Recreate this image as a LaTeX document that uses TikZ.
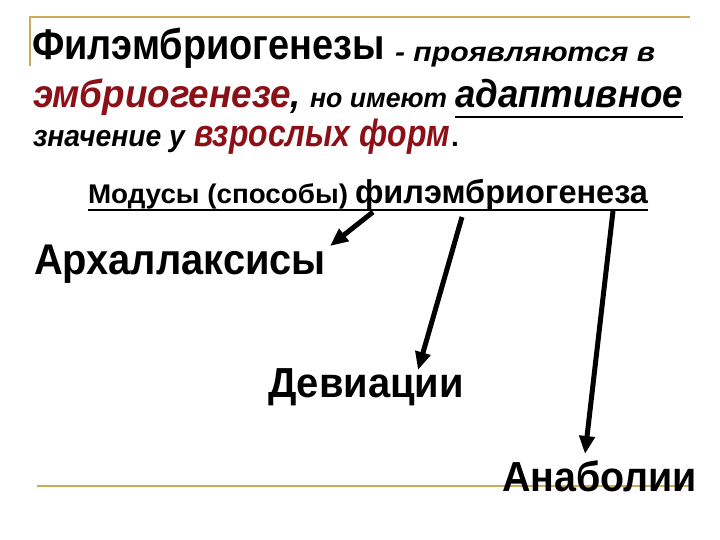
\documentclass[tikz,border=0pt]{standalone}
\usepackage{fontspec}
\setmainfont{Liberation Sans}
\usetikzlibrary{arrows.meta}
\definecolor{darkred}{RGB}{140,16,24}
\definecolor{gold}{RGB}{204,172,90}
\newcommand{\hw}[2]{\resizebox{#1}{\height}{#2}}
\newcommand{\fs}[1]{\fontsize{#1}{#1}\selectfont}
\tikzset{
  txt/.style={anchor=base west, inner sep=0pt, outer sep=0pt},
  goldline/.style={draw=gold, line width=2pt},
  uline/.style={line width=2.6pt},
  arr/.style={line width=5pt, -{Triangle[length=18pt,width=15pt]}},
}
\begin{document}
\begin{tikzpicture}[x=1pt,y=-1pt]
\useasboundingbox (0,0) rectangle (720,540);
\fill[white] (0,0) rectangle (720,540);
% frame lines
\draw[goldline] (30,66) -- (30,17) -- (690,17);
\draw[goldline] (37,486) -- (690,486);
% line 1
\node[txt] (t1) at (32,60) {\hw{353pt}{\fs{43}\bfseries Филэмбриогенезы}};
\node[txt] (t1b) at (395,62) {\hw{260pt}{\fs{27}\bfseries\itshape - проявляются в}};
% line 2
\node[txt,text=darkred] (t2a) at (33,108) {\hw{268pt}{\fs{39}\bfseries\itshape эмбриогенезе\textcolor{black}{,}}};
\node[txt] (t2b) at (310,108) {\hw{137pt}{\fs{27}\bfseries\itshape но имеют}};
\node[txt] (t2d) at (455,108) {\hw{228pt}{\fs{39}\bfseries\itshape адаптивное}};
\draw[uline] ([yshift=-9pt]t2d.base west) -- ([yshift=-9pt]t2d.base east);
% line 3
\node[txt] (t3a) at (33,147) {\hw{152pt}{\fs{30}\bfseries\itshape значение у}};
\node[txt,text=darkred] (t3b) at (194,147) {\hw{256pt}{\fs{38}\bfseries\itshape взрослых форм}};
\node[txt] (t3c) at (451,147) {\fs{28}\bfseries .};
% modes
\node[txt] (m1) at (88,204) {\hw{260pt}{\fs{27}\bfseries Модусы (способы)}};
\node[txt] (m2) at (355,204) {\hw{293pt}{\fs{33}\bfseries филэмбриогенеза}};
\draw[uline] ([yshift=-6pt]m1.base west) -- ([yshift=-6pt]m2.base east);
% targets
\node[txt] (arch) at (34,274) {\hw{292pt}{\fs{43}\bfseries Архаллаксисы}};
\node[txt] (dev) at (268,397) {\hw{196pt}{\fs{42}\bfseries Девиации}};
\node[txt] (ana) at (502,491) {\hw{195pt}{\fs{42}\bfseries Анаболии}};
% arrow anchors
\coordinate (s1) at (373,212);
\coordinate (s2) at (462,217);
\coordinate (s3) at (613,211);
\coordinate (e1) at (330,246);
\coordinate (e2) at (418,370);
\coordinate (e3) at (585,454);
\draw[arr] (s1) -- (e1);
\draw[arr] (s2) -- (e2);
\draw[arr] (s3) -- (e3);
\end{tikzpicture}
\end{document}
